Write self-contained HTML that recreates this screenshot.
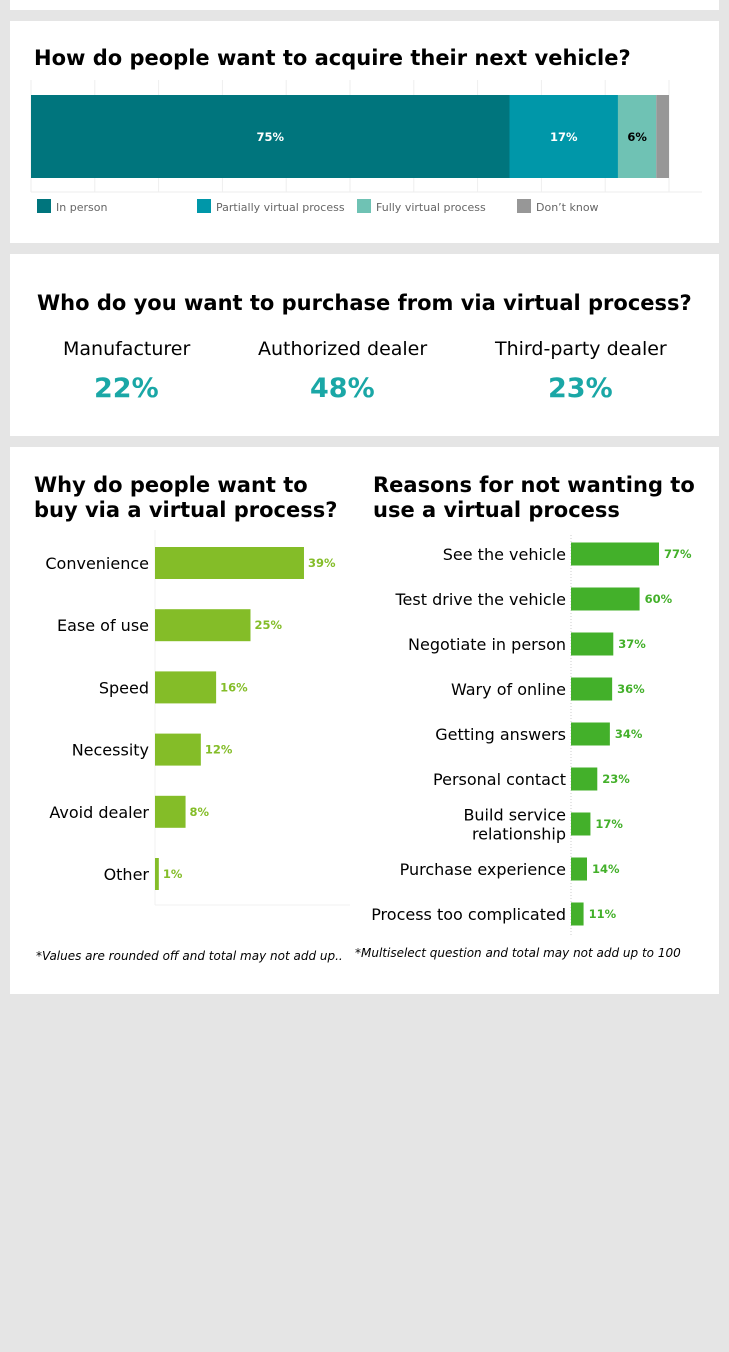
<!DOCTYPE html>
<html><head><meta charset="utf-8"><style>
body{margin:0;width:729px;height:1352px;background:#e5e5e5;font-family:"DejaVu Sans","Liberation Sans",sans-serif;position:relative;overflow:hidden}
.card{position:absolute;left:10px;width:709px;background:#fff}
.t{position:absolute;white-space:nowrap}
</style></head><body>
<div class="card" style="top:0;height:10px"></div>
<div class="card" style="top:21px;height:222px"></div>
<div class="card" style="top:254px;height:182px"></div>
<div class="card" style="top:447px;height:547px"></div>

<div class="t" style="left:34px;top:46px;font-size:21px;font-weight:bold">How do people want to acquire their next vehicle?</div>
<svg id="c1" style="position:absolute;left:0;top:0" width="729" height="230"></svg>

<div class="t" style="left:37px;top:291px;font-size:21px;font-weight:bold">Who do you want to purchase from via virtual process?</div>
<div class="t" style="left:63px;top:338px;font-size:19px">Manufacturer</div>
<div class="t" style="left:258px;top:338px;font-size:19px">Authorized dealer</div>
<div class="t" style="left:495px;top:338px;font-size:19px">Third-party dealer</div>
<div class="t" style="left:94px;top:373px;font-size:27px;font-weight:bold;color:#1aa7a6">22%</div>
<div class="t" style="left:310px;top:373px;font-size:27px;font-weight:bold;color:#1aa7a6">48%</div>
<div class="t" style="left:548px;top:373px;font-size:27px;font-weight:bold;color:#1aa7a6">23%</div>

<div class="t" style="left:34px;top:473px;font-size:21px;font-weight:bold;line-height:25px">Why do people want to<br>buy via a virtual process?</div>
<div class="t" style="left:373px;top:473px;font-size:21px;font-weight:bold;line-height:25px">Reasons for not wanting to<br>use a virtual process</div>
<svg id="c2" style="position:absolute;left:0;top:0" width="729" height="994"></svg>
<div class="t" style="left:36px;top:949px;font-size:12px;font-style:italic">*Values are rounded off and total may not add up..</div>
<div class="t" style="left:355px;top:946px;font-size:12px;font-style:italic">*Multiselect question and total may not add up to 100</div>

<script>
const acqCats=["In person","Partially virtual process","Fully virtual process","Don’t know"];
const acqVals=[75,17,6,2];
const acqLabels=["75%","17%","6%",""];
const whyCats=["Convenience","Ease of use","Speed","Necessity","Avoid dealer","Other"];
const whyVals=[39,25,16,12,8,1];
const notCats=["See the vehicle","Test drive the vehicle","Negotiate in person","Wary of online","Getting answers","Personal contact","Build service|relationship","Purchase experience","Process too complicated"];
const notVals=[77,60,37,36,34,23,17,14,11];
const NS="http://www.w3.org/2000/svg";
function mk(p,tag,a,txt){const e=document.createElementNS(NS,tag);for(const k in a)e.setAttribute(k,a[k]);if(txt!==undefined)e.textContent=txt;p.appendChild(e);return e;}
const c1=document.getElementById('c1');
const x1=v=>31+v*6.38;
for(let i=0;i<=10;i++){const g=mk(c1,'line',{x1:x1(i*10),x2:x1(i*10),y1:80,y2:192,stroke:'#eee'});

}
mk(c1,'line',{x1:31,x2:702,y1:192,y2:192,stroke:'#eee'});
const cols=["#00757d","#0097a9","#6fc2b4","#979797"];
const lx=[37,197,357,517];
let acc=0;
acqVals.forEach((v,i)=>{
 const r=mk(c1,'rect',{x:x1(acc),y:95,width:x1(acc+v)-x1(acc),height:83,fill:cols[i]});
 
 
 if(acqLabels[i]){const t=mk(c1,'text',{x:(x1(acc)+x1(acc+v))/2,y:141,'text-anchor':'middle','font-size':11.5,'font-weight':'bold',fill:i==2?'#000':'#fff'},acqLabels[i]);
 
 }
 acc+=v;
 const s=mk(c1,'rect',{x:lx[i],y:199,width:14,height:14,fill:cols[i]});
 
 
 const lt=mk(c1,'text',{x:lx[i]+19,y:211,'font-size':11,fill:'#666'},acqCats[i]);
 
 
});
const c2=document.getElementById('c2');
mk(c2,'line',{x1:155,x2:155,y1:530,y2:905,stroke:'#f0f0f0'});
mk(c2,'line',{x1:155,x2:350,y1:905,y2:905,stroke:'#f0f0f0'});
whyVals.forEach((v,i)=>{
 const cy=563+i*62.2;
 const r=mk(c2,'rect',{x:155,y:cy-16,width:v*3.82,height:32,fill:'#84bd28'});
 
 
 const l=mk(c2,'text',{x:149,y:cy+6,'text-anchor':'end','font-size':16},whyCats[i]);
 
 
 const t=mk(c2,'text',{x:155+v*3.82+4,y:cy+4,'font-size':11.5,'font-weight':'bold',fill:'#84bd28'},v+'%');
 
 
});
mk(c2,'line',{x1:571,x2:571,y1:535,y2:935,stroke:'#ccc','stroke-dasharray':'1,2'});
notVals.forEach((v,i)=>{
 const cy=554+i*45;
 const r=mk(c2,'rect',{x:571,y:cy-11.5,width:v*1.143,height:23,fill:'#43b02a'});
 
 
 const parts=notCats[i].split('|');
 parts.forEach((p,j)=>{
  const l=mk(c2,'text',{x:566,y:cy+6+(j-(parts.length-1)/2)*19,'text-anchor':'end','font-size':16},p);
  
  
 });
 const t=mk(c2,'text',{x:571+v*1.143+5,y:cy+4,'font-size':11.5,'font-weight':'bold',fill:'#43b02a'},v+'%');
 
 
});
</script>
</body></html>
